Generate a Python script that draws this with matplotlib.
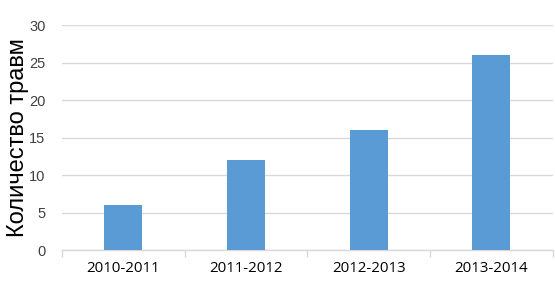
import matplotlib
matplotlib.use("Agg")
import matplotlib.pyplot as plt
import numpy as np

categories = ["2010-2011", "2011-2012", "2012-2013", "2013-2014"]
values = [6, 12, 16, 26]
yticks = [0, 5, 10, 15, 20, 25, 30]

fig = plt.figure(figsize=(5.55, 2.95), dpi=100)
ax = fig.add_axes([0.112, 0.1525, 0.884, 0.7625])

x = np.arange(len(categories))
ax.bar(x, values, width=0.31, color="#5B9BD5", zorder=3)

ax.set_xlim(-0.5, len(categories) - 0.5)
ax.set_ylim(0, 30)
ax.set_yticks(yticks)
ax.set_yticklabels([str(t) for t in yticks], fontsize=10.5, color="#404040", family="Liberation Sans")
ax.set_xticks(x)
ax.set_xticklabels(categories, fontsize=10.8, color="#000000", family="Open Sans")
ax.tick_params(axis="x", length=0, pad=8)
ax.tick_params(axis="y", length=0, pad=12)
ax.set_xticks(np.arange(-0.5, len(categories), 1.0), minor=True)
ax.tick_params(axis="x", which="minor", length=5, color="#D9D9D9", width=1)

ax.grid(axis="y", color="#D9D9D9", linewidth=1, zorder=0)
for s in ["top", "right", "left"]:
    ax.spines[s].set_visible(False)
ax.spines["bottom"].set_color("#D9D9D9")
ax.spines["bottom"].set_linewidth(1)

ax.set_ylabel("Количество травм", fontsize=17, family="Liberation Sans", labelpad=0)

fig.savefig("out.png", dpi=100)
